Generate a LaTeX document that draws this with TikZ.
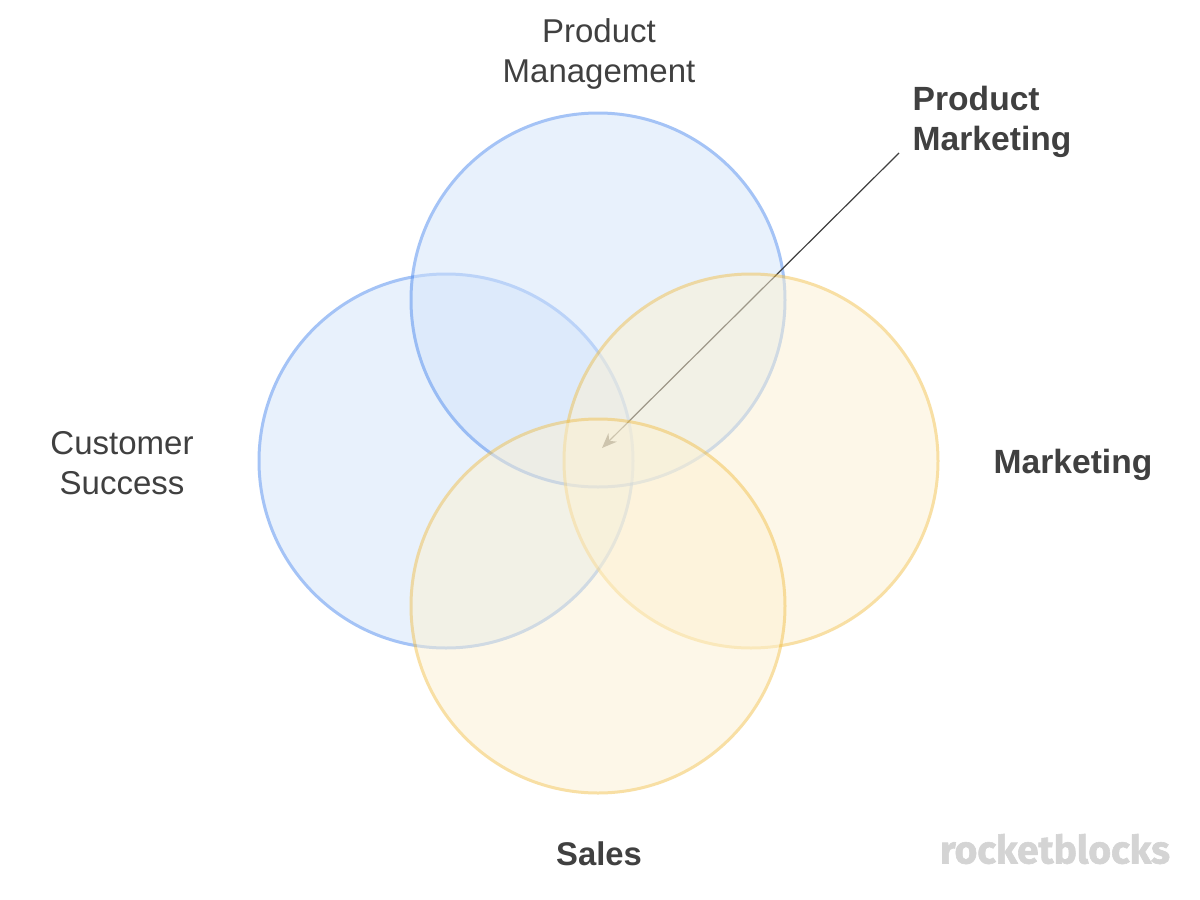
\documentclass[tikz,border=0pt]{standalone}
\usepackage{fontspec}
\setmainfont{Liberation Sans}
\newfontfamily\markfont[BoldFeatures={FakeBold=1.5}]{Fira Sans}
\usetikzlibrary{arrows.meta}
\definecolor{bluefill}{HTML}{D3E4FB}
\definecolor{bluestroke}{HTML}{4B89EE}
\definecolor{yellowfill}{HTML}{FDF1D2}
\definecolor{yellowstroke}{HTML}{F2C14B}
\definecolor{ink}{HTML}{404040}
\tikzset{
  vennblue/.style={circle,inner sep=0pt,minimum size=374pt,draw=bluestroke,fill=bluefill,line width=3pt},
  vennyellow/.style={circle,inner sep=0pt,minimum size=374pt,draw=yellowstroke,fill=yellowfill,line width=3pt},
  plainlabel/.style={text=ink,align=center,font=\fontsize{33pt}{40pt}\selectfont,inner sep=0pt},
  boldlabel/.style={text=ink,align=center,font=\fontsize{33.6pt}{40pt}\selectfont\bfseries,inner sep=0pt},
  layer/.style={transparency group,opacity=.5},
  callout/.style={draw=ink,line width=1.2pt,-{Stealth[length=15pt,width=12pt]}}
}
\begin{document}
\begin{tikzpicture}[x=1pt,y=-1pt]
\useasboundingbox[fill=white] (0,0) rectangle (1200,900);
\coordinate (calloutstart) at (899,153);
\coordinate (calloutend) at (602,448);
\begin{scope}[layer]\node[vennblue] (success) at (446,461) {};\end{scope}
\begin{scope}[layer]\node[vennblue] (management) at (598,300) {};\end{scope}
\draw[callout] (calloutstart) -- (calloutend);
\begin{scope}[layer]\node[vennyellow] (marketing) at (751,461) {};\end{scope}
\begin{scope}[layer]\node[vennyellow] (sales) at (598,606) {};\end{scope}
\node[plainlabel] (pmlabel) at (599,54) {Product\\Management};
\node[plainlabel] (cslabel) at (122,463) {Customer\\Success};
\node[boldlabel,align=left,anchor=west] (pmklabel) at (912.5,122) {Product\\Marketing};
\node[boldlabel] (mlabel) at (1073,465) {Marketing};
\node[boldlabel,font=\fontsize{32.8pt}{40pt}\selectfont\bfseries] (slabel) at (599,854) {Sales};
\node[text=black!17,inner sep=0pt,font=\markfont\bfseries\fontsize{39pt}{39pt}\selectfont] (brand) at (1055,849) {rocketblocks};
\end{tikzpicture}
\end{document}
